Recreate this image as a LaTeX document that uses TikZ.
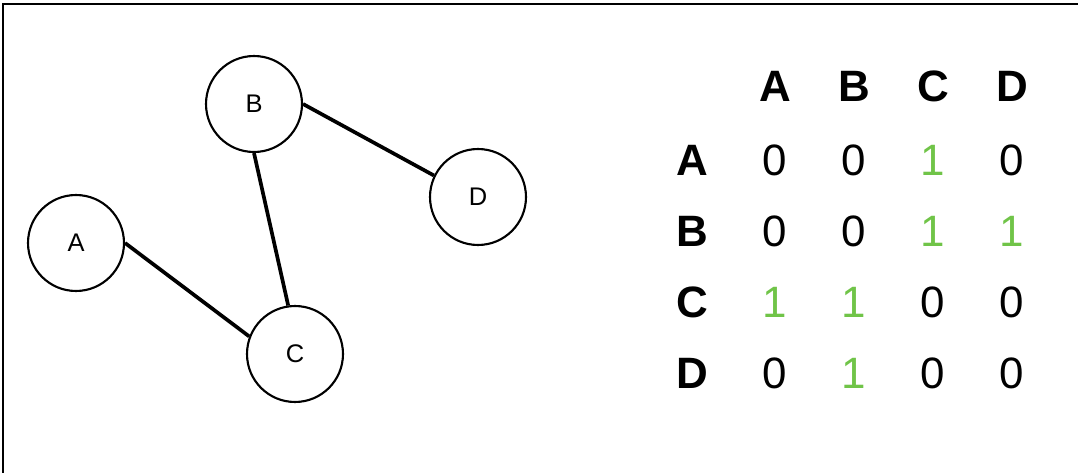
\documentclass[tikz,border=0pt]{standalone}
\usepackage{fontspec}
\setmainfont{Liberation Sans}
\definecolor{onegreen}{RGB}{112,196,72}
\tikzset{
  vertex/.style={circle,draw=black,line width=1.2pt,minimum size=1.92cm,
    inner sep=0pt,font=\fontsize{14.5}{14.5}\selectfont},
  edge/.style={line width=2.1pt},
  head/.style={font=\fontsize{25}{25}\selectfont\bfseries},
  entry/.style={font=\fontsize{25}{25}\selectfont}
}
\begin{document}
\begin{tikzpicture}[x=0.02cm,y=-0.02cm]
    \useasboundingbox (0,0) rectangle (1078,473);
    \draw[line width=1.7pt] (3,473) -- (3,4) -- (1078,4);
    % graph
    \node[vertex] (A) at (76,243) {A};
    \node[vertex] (B) at (254,104) {B};
    \node[vertex] (C) at (295,354) {C};
    \node[vertex] (D) at (478,197) {D};
    \draw[edge] (B.east) -- (D.154);
    \draw[edge] (B.south) -- (C.98);
    \draw[edge] (A.east) -- (C.159);
    % adjacency matrix
    \foreach \lbl/\px in {A/775,B/854,C/933,D/1012}{
      \node[head] (col\lbl) at (\px,86) {\lbl};
    }
    \foreach \lbl/\py/\va/\vb/\vc/\vd in {
        A/160/0/0/1/0,
        B/231/0/0/1/1,
        C/302/1/1/0/0,
        D/373/0/1/0/0}{
      \node[head] (row\lbl) at (692,\py) {\lbl};
      \foreach \col/\px/\val in {A/775/\va,B/854/\vb,C/933/\vc,D/1012/\vd}{
        \ifnum\val=1
          \node[entry,text=onegreen] (cell\lbl\col) at (\px,\py) {\val};
        \else
          \node[entry] (cell\lbl\col) at (\px,\py) {\val};
        \fi
      }
    }
\end{tikzpicture}
\end{document}
